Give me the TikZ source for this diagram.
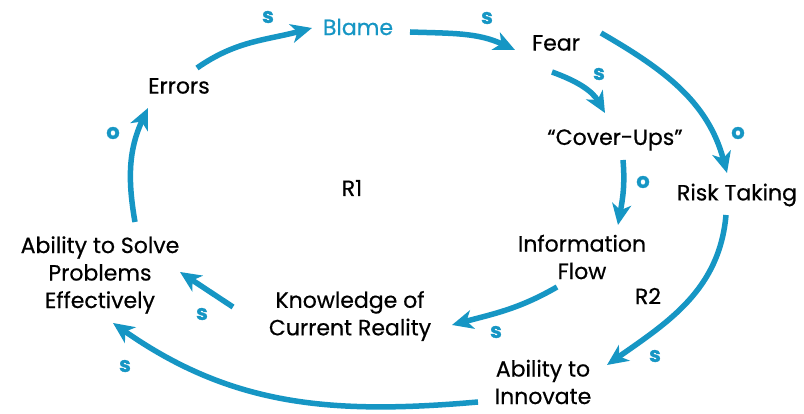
\documentclass[tikz,border=0pt]{standalone}
\usepackage{fontspec}
\setmainfont{Poppins}[FakeBold=0.5]
\newfontfamily\polfont{Poppins}[FakeBold=1.2]
\usetikzlibrary{arrows.meta}
\definecolor{loopblue}{RGB}{22,150,196}
\tikzset{
  lbl/.style={font=\fontsize{22}{27.5}\selectfont, align=center, text=black, inner sep=0pt},
  pol/.style={font=\polfont\bfseries\fontsize{21}{22}\selectfont, text=loopblue, inner sep=0pt},
  arr/.style={draw=loopblue, line width=5.5pt, line cap=butt,
    -{Stealth[length=21pt,width=19pt,inset=6pt]}},
}
\begin{document}
\begin{tikzpicture}[x=1pt,y=1pt]
\useasboundingbox (0,0) rectangle (804,414);
\fill[white] (0,0) rectangle (804,414);
% nodes
\node[lbl, text=loopblue] (blame) at (358,387) {Blame};
\node[lbl] (errors) at (179,328) {Errors};
\node[lbl] (fear) at (556,371) {Fear};
\node[lbl] (cover) at (615,274) {``Cover-Ups''};
\node[lbl] (risk) at (737,219) {Risk Taking};
\node[lbl] (r1) at (352,226) {R1};
\node[lbl] (info) at (582,157) {Information\\Flow};
\node[lbl] (r2) at (648,118) {R2};
\node[lbl] (know) at (350,98) {Knowledge of\\Current Reality};
\node[lbl] (solve) at (100,139) {Ability to Solve\\Problems\\Effectively};
\node[lbl] (innov) at (543,32) {Ability to\\Innovate};
% connectors
\draw[arr] ([shift={(18,18)}]errors.center) to[out=35,in=195] ([shift={(-46,-1)}]blame.center);
\draw[arr] ([shift={(52,-5)}]blame.center) to[out=-2,in=155] ([shift={(-41,-7)}]fear.center);
\draw[arr] ([shift={(-4,-29)}]fear.center) to[out=-20,in=120] ([shift={(-10,27)}]cover.center);
\draw[arr] ([shift={(45,10)}]fear.center) to[out=-30,in=105] ([shift={(-10,22)}]risk.center);
\draw[arr] ([shift={(8,-20)}]cover.center) to[out=-85,in=80] ([shift={(36,32)}]info.center);
\draw[arr] ([shift={(-25,-30)}]info.center) to[out=210,in=15] ([shift={(102,-9)}]know.center);
\draw[arr] ([shift={(-11,-20)}]risk.center) to[out=-95,in=35] ([shift={(64,17)}]innov.center);
\draw[arr] ([shift={(-65,-20)}]innov.center) to[out=185,in=-35] ([shift={(13,-48)}]solve.center);
\draw[arr] ([shift={(-117,9)}]know.center) -- ([shift={(80,3)}]solve.center);
\draw[arr] ([shift={(35,53)}]solve.center) to[out=100,in=-115] ([shift={(-31,-22)}]errors.center);
% polarities
\node[pol] (p1) at (268,397) {s};
\node[pol] (p2) at (487,396) {s};
\node[pol] (p3) at (599,340) {s};
\node[pol] (p4) at (738,281) {o};
\node[pol] (p5) at (643,232) {o};
\node[pol] (p6) at (496,82) {s};
\node[pol] (p7) at (655,58) {s};
\node[pol] (p8) at (125,48) {s};
\node[pol] (p9) at (202,100) {s};
\node[pol] (p10) at (113,281) {o};
\end{tikzpicture}
\end{document}
